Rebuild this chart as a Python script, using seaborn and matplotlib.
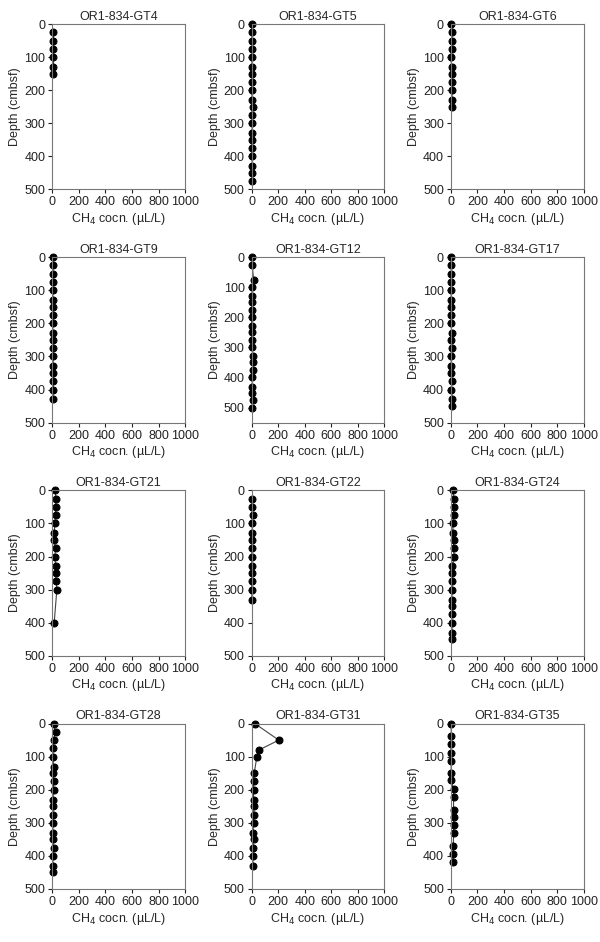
import matplotlib
matplotlib.use("Agg")
import matplotlib.pyplot as plt
import seaborn as sns

# core names, in panel order
cores = ["OR1-834-GT4", "OR1-834-GT5", "OR1-834-GT6",
         "OR1-834-GT9", "OR1-834-GT12", "OR1-834-GT17",
         "OR1-834-GT21", "OR1-834-GT22", "OR1-834-GT24",
         "OR1-834-GT28", "OR1-834-GT31", "OR1-834-GT35"]

# depth (cmbsf) and CH4 concentration (uL/L) per core
gt4_depth = [25, 50, 75, 100, 130, 150]
gt4_ch4 = [3, 3, 3, 3, 3, 3]

gt5_depth = [0, 25, 50, 75, 100, 130, 150, 175, 200, 230, 250, 275, 300, 330, 350, 375, 400, 430, 450, 475]
gt5_ch4 = [2, 2, 5, 4, 5, 2, 6, 5, 3, 4, 8, 3, 7, 2, 4, 3, 4, 6, 5, 3]

gt6_depth = [0, 25, 50, 75, 100, 130, 150, 175, 200, 230, 250]
gt6_ch4 = [2, 10, 5, 5, 0, 5, 5, 5, 12, 5, 12]

gt9_depth = [0, 25, 50, 75, 100, 130, 150, 175, 200, 230, 250, 275, 300, 330, 350, 375, 400, 430]
gt9_ch4 = [3, 4, 4, 4, 5, 5, 5, 4, 5, 4, 3, 5, 8, 5, 8, 8, 6, 5]

gt12_depth = [0, 25, 75, 100, 130, 150, 175, 200, 230, 250, 275, 300, 330, 350, 375, 400, 430, 450, 475, 500]
gt12_ch4 = [3, 5, 15, 5, 5, 5, 0, 2, 0, 0, 5, 3, 10, 12, 8, 5, 5, 3, 10, 5]

gt17_depth = [0, 25, 50, 75, 100, 130, 150, 175, 200, 230, 250, 275, 300, 330, 350, 375, 400, 430, 450]
gt17_ch4 = [3, 4, 4, 3, 3, 2, 2, 3, 2, 5, 3, 6, 3, 2, 3, 6, 3, 10, 5]

gt21_depth = [0, 25, 50, 75, 100, 130, 150, 175, 200, 230, 250, 275, 300, 400]
gt21_ch4 = [20, 30, 25, 25, 20, 15, 15, 25, 20, 25, 25, 30, 35, 15]

gt22_depth = [25, 50, 75, 100, 130, 150, 175, 200, 230, 250, 275, 300, 330]
gt22_ch4 = [5, 3, 8, 5, 5, 3, 6, 2, 5, 5, 3, 3, 3]

gt24_depth = [0, 25, 50, 75, 100, 130, 150, 175, 200, 230, 250, 275, 300, 330, 350, 375, 400, 430, 450]
gt24_ch4 = [15, 20, 20, 20, 15, 15, 20, 20, 25, 10, 10, 5, 10, 5, 10, 5, 5, 10, 8]

gt28_depth = [0, 25, 50, 75, 100, 130, 150, 175, 200, 230, 250, 275, 300, 330, 350, 375, 400, 430, 450]
gt28_ch4 = [10, 25, 10, 5, 5, 10, 5, 10, 10, 5, 5, 5, 5, 5, 5, 10, 5, 5, 5]

gt31_depth = [0, 50, 80, 100, 150, 175, 200, 230, 250, 275, 300, 330, 350, 375, 400, 430]
gt31_ch4 = [25, 205, 55, 40, 20, 15, 15, 15, 20, 15, 15, 10, 15, 10, 10, 10]

gt35_depth = [0, 38, 62, 88, 112, 148, 172, 198, 222, 260, 282, 308, 332, 370, 393, 418]
gt35_ch4 = [2, 3, 3, 2, 2, 2, 2, 20, 20, 20, 20, 20, 20, 18, 18, 15]

depths = [gt4_depth, gt5_depth, gt6_depth, gt9_depth, gt12_depth, gt17_depth,
          gt21_depth, gt22_depth, gt24_depth, gt28_depth, gt31_depth, gt35_depth]
ch4 = [gt4_ch4, gt5_ch4, gt6_ch4, gt9_ch4, gt12_ch4, gt17_ch4,
       gt21_ch4, gt22_ch4, gt24_ch4, gt28_ch4, gt31_ch4, gt35_ch4]

sns.set_style("white")
plt.rcParams["font.family"] = ["Liberation Sans", "DejaVu Sans"]
plt.rcParams["font.size"] = 9

fig, axes = plt.subplots(4, 3, figsize=(6, 9.42), dpi=100)
fig.subplots_adjust(left=0.087, right=0.973, top=0.9745, bottom=0.0563,
                    wspace=0.5, hspace=0.41)

for ax, name, d, c in zip(axes.flat, cores, depths, ch4):
    sns.lineplot(x=c, y=d, ax=ax, sort=False, estimator=None,
                 color="#444444", linewidth=0.8, marker="o", markersize=5,
                 markerfacecolor="black", markeredgecolor="black")
    ax.set_xlim(0, 1000)
    ymax = 550 if name == "OR1-834-GT12" else 500
    ax.set_ylim(ymax, 0)
    ax.set_xticks([0, 200, 400, 600, 800, 1000])
    ax.set_yticks([0, 100, 200, 300, 400, 500])
    ax.tick_params(axis="both", direction="out", length=3, width=0.8,
                   labelsize=9, pad=2, colors="#222222", bottom=True, left=True)
    for s in ax.spines.values():
        s.set_color("#777777")
        s.set_linewidth(0.8)
    ax.set_title(name, fontsize=9, pad=3)
    ax.set_xlabel("CH$_4$ cocn. (µL/L)", fontsize=9, labelpad=2)
    ax.set_ylabel("Depth (cmbsf)", fontsize=9, labelpad=2)
    for line in ax.lines:
        line.set_clip_on(False)

fig.savefig("out.png", dpi=100)
